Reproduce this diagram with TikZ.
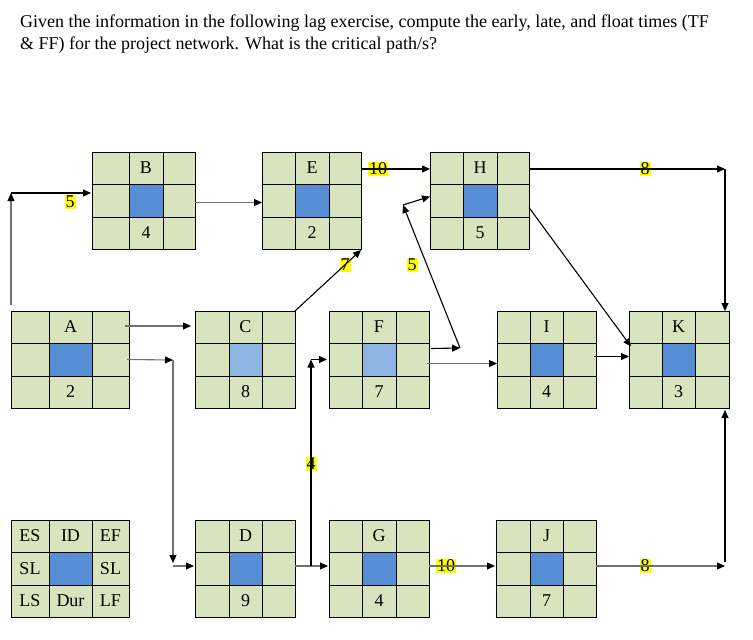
\documentclass[tikz,border=0pt]{standalone}
\usepackage{fontspec}
\setmainfont{Liberation Serif}
\usepackage{tikz}
\usetikzlibrary{arrows.meta,positioning,calc}
\definecolor{netGreen}{HTML}{D7E4BD}
\definecolor{netBlue}{HTML}{558ED5}
\definecolor{netSky}{HTML}{8EB4E3}
\definecolor{netGrey}{HTML}{707070}
\definecolor{netYellow}{HTML}{FFFF00}
\tikzset{
  grid line/.style={draw=black,line width=1pt},
  act frame/.style={grid line,inner sep=0pt,outer sep=0pt,minimum height=97pt,anchor=north west},
  cell text/.style={font=\fontsize{18}{20}\selectfont,inner sep=0pt},
  lag label/.style={fill=netYellow,inner sep=1pt,font=\fontsize{18}{20}\selectfont},
  lag arrow/.style={-{Triangle[length=8pt,width=7pt,color=black]},line width=1.1pt,draw=black},
  grey arrow/.style={lag arrow,draw=netGrey}
}
% one activity box: name, left, top, column widths, ID, duration, centre fill
\newcommand{\actbox}[9]{%
  \pgfmathsetmacro{\boxw}{#4+#5+#6}
  \fill[netGreen] (#2,#3) rectangle ++(\boxw,97);
  \fill[#9] (#2+#4,#3+32) rectangle ++(#5,33);
  \draw[grid line] (#2+#4,#3) -- ++(0,97) (#2+#4+#5,#3) -- ++(0,97)
    (#2,#3+32) -- ++(\boxw,0) (#2,#3+65) -- ++(\boxw,0);
  \node[act frame,minimum width=\boxw pt] (#1) at (#2,#3) {};
  \node[cell text] (#1-id) at (#2+#4+#5/2,#3+16) {#7};
  \node[cell text] (#1-dur) at (#2+#4+#5/2,#3+81) {#8};
}

\begin{document}
\begin{tikzpicture}[x=1pt,y=-1pt]
\useasboundingbox[fill=white] (0,0) rectangle (753,640);
\node[anchor=north west,align=left,inner sep=0pt,font=\fontsize{18}{22}\selectfont] (task) at (20,15)
  {Given the information in the following lag exercise, compute the early, late, and float times (TF\\
   \& FF) for the project network. What is the critical path/s?};

% activity boxes
\actbox{B}{92}{152}{37}{34}{32}{B}{4}{netBlue}
\actbox{E}{262}{152}{33}{34}{32}{E}{2}{netBlue}
\actbox{H}{430}{152}{33}{34}{32}{H}{5}{netBlue}
\actbox{A}{11}{311}{38}{43}{37}{A}{2}{netBlue}
\actbox{C}{195}{311}{34}{33}{33}{C}{8}{netSky}
\actbox{F}{329}{311}{33}{34}{33}{F}{7}{netSky}
\actbox{I}{497}{311}{33}{33}{33}{I}{4}{netBlue}
\actbox{K}{629}{311}{33}{33}{34}{K}{3}{netBlue}
\actbox{L}{11}{520}{38}{43}{37}{ID}{Dur}{netBlue}
\actbox{D}{195}{520}{34}{33}{33}{D}{9}{netBlue}
\actbox{G}{329}{520}{33}{34}{33}{G}{4}{netBlue}
\actbox{J}{496}{520}{34}{33}{33}{J}{7}{netBlue}

% legend corners
\node[cell text] (L-es) at (30,536) {ES};
\node[cell text] (L-ef) at (110.5,536) {EF};
\node[cell text] (L-sl) at (30,568.5) {SL};
\node[cell text] (L-sr) at (110.5,568.5) {SL};
\node[cell text] (L-ls) at (30,601) {LS};
\node[cell text] (L-lf) at (110.5,601) {LF};

% lags
\node[lag label] (lag-ab) at (70,202) {5};
\node[lag label] (lag-eh) at (378,169) {10};
\node[lag label] (lag-ce) at (345,265) {7};
\node[lag label] (lag-fh) at (412,265) {5};
\node[lag label] (lag-hk) at (645,169) {8};
\node[lag label] (lag-df) at (311,464) {4};
\node[lag label] (lag-gj) at (446,566) {10};
\node[lag label] (lag-jk) at (645,566) {8};

% bends
\coordinate (ab) at (11,193);
\coordinate (ad) at (173,360);
\coordinate (dg) at (311,566);
\coordinate (fh) at (460,348);
\coordinate (hf) at (403,205);
\coordinate (hk) at (725,169);
\coordinate (jk) at (725,566);

\draw[grey arrow] ($(A.north west)+(0,-6)$) -- (ab);
\draw[lag arrow] (ab) -- ($(ab -| B.west)+(-1,0)$);
\draw[grey arrow] ($(B.east)+(0,2)$) -- ($(E.west)+(0,2)$);
\draw[lag arrow] ($(E.north east)+(0,17)$) -- ($(H.north west)+(0,17)$);
\draw[lag arrow] (C.north east) -- ($(E.south east)+(0,1)$);
\draw[lag arrow] ($(F.east)+(2,-11)$) -- (fh);
\draw[lag arrow] (fh) -- (hf);
\draw[lag arrow] (hf) -- ($(H.west)+(0,-4)$);
\draw[lag arrow] ($(H.north east)+(0,17)$) -- (hk);
\draw[lag arrow] (hk) -- (hk |- K.north);
\draw[lag arrow] ($(H.east)+(0,7)$) -- ($(K.west)+(2,-13)$);
\draw[grey arrow] ($(A.north east)+(-4,15)$) -- ($(C.north west)+(-4,15)$);
\draw[grey arrow] ($(A.east)+(-2,0)$) -- (ad);
\draw[grey arrow] (ad) -- ($(ad |- dg)+(0,-3)$);
\draw[grey arrow] (ad |- dg) -- ($(D.west |- dg)+(-1,0)$);
\draw[grey arrow] (D.east |- dg) -- ($(G.west |- dg)+(-1,0)$);
\draw[lag arrow] (dg) -- (dg |- F.west);
\draw[lag arrow] (dg |- F.west) -- ($(F.west)+(-2,0)$);
\draw[grey arrow] ($(F.east)+(-2,4)$) -- ($(I.west)+(0,4)$);
\draw[lag arrow] ($(I.east)+(-2,-3)$) -- ($(K.west)+(0,-3)$);
\draw[grey arrow] (G.east |- dg) -- ($(J.west |- dg)+(-1,0)$);
\draw[grey arrow] (J.east |- jk) -- (jk);
\draw[lag arrow] ($(jk)+(0,-4)$) -- ($(jk |- K.south)+(0,2)$);
\end{tikzpicture}
\end{document}
